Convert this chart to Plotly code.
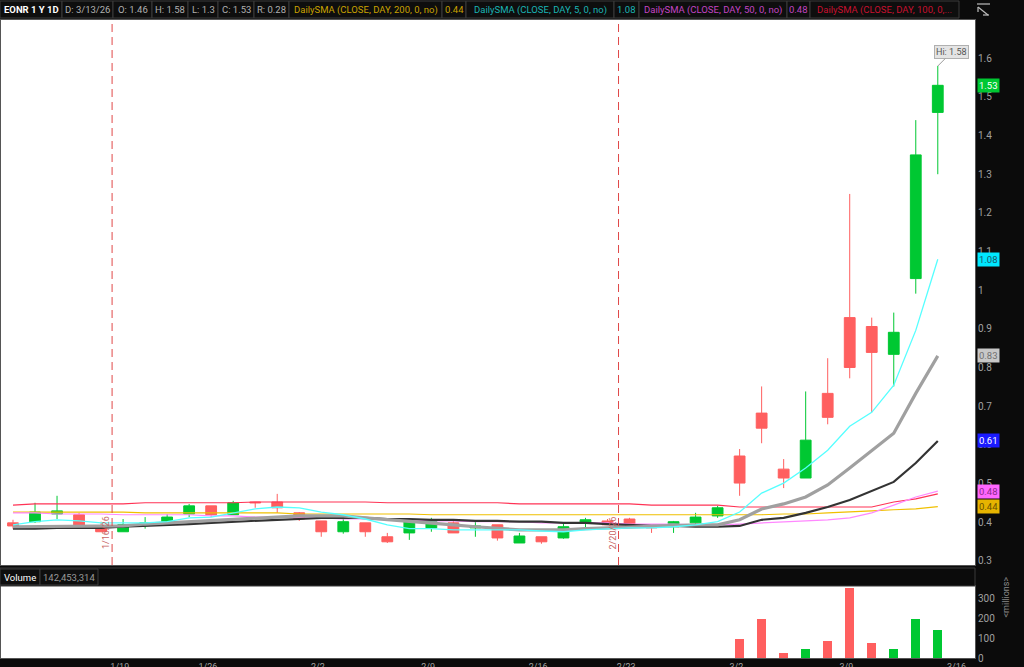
import plotly.graph_objects as go

# ---------------- data ----------------
dates = ["1/12", "1/13", "1/14", "1/15", "1/16", "1/20", "1/21", "1/22", "1/23",
         "1/26", "1/27", "1/28", "1/29", "1/30", "2/2", "2/3", "2/4", "2/5", "2/6",
         "2/9", "2/10", "2/11", "2/12", "2/13", "2/17", "2/18", "2/19", "2/20",
         "2/23", "2/24", "2/25", "2/26", "2/27", "3/2", "3/3", "3/4", "3/5", "3/6",
         "3/9", "3/10", "3/11", "3/12", "3/13"]

opens = [0.398, 0.401, 0.421, 0.419, 0.388, 0.375, 0.395, 0.401, 0.421, 0.442,
         0.419, 0.452, 0.452, 0.424, 0.403, 0.375, 0.398, 0.362, 0.372, 0.385,
         0.398, 0.385, 0.393, 0.346, 0.362, 0.359, 0.398, 0.403, 0.408, 0.390,
         0.388, 0.398, 0.416, 0.571, 0.682, 0.537, 0.514, 0.733, 0.929, 0.906,
         0.834, 1.030, 1.46]
highs = [0.406, 0.450, 0.468, 0.424, 0.401, 0.408, 0.413, 0.421, 0.447, 0.442,
         0.455, 0.452, 0.473, 0.426, 0.403, 0.411, 0.398, 0.372, 0.403, 0.411,
         0.406, 0.401, 0.393, 0.372, 0.362, 0.398, 0.411, 0.408, 0.411, 0.390,
         0.403, 0.424, 0.442, 0.589, 0.751, 0.563, 0.738, 0.824, 1.249, 0.929,
         0.942, 1.440, 1.58]
lows = [0.383, 0.398, 0.408, 0.383, 0.375, 0.375, 0.383, 0.401, 0.413, 0.413,
        0.419, 0.437, 0.424, 0.403, 0.362, 0.370, 0.362, 0.346, 0.354, 0.375,
        0.372, 0.362, 0.352, 0.346, 0.344, 0.357, 0.383, 0.393, 0.395, 0.372,
        0.372, 0.390, 0.411, 0.468, 0.604, 0.488, 0.514, 0.653, 0.772, 0.684,
        0.751, 0.991, 1.30]
closes = [0.390, 0.426, 0.429, 0.385, 0.375, 0.393, 0.398, 0.413, 0.442, 0.419,
          0.450, 0.450, 0.437, 0.408, 0.375, 0.401, 0.375, 0.349, 0.403, 0.403,
          0.372, 0.390, 0.359, 0.364, 0.349, 0.388, 0.406, 0.393, 0.395, 0.385,
          0.401, 0.413, 0.437, 0.501, 0.643, 0.514, 0.612, 0.671, 0.800, 0.839,
          0.891, 1.350, 1.53]

# volume in millions (earlier sessions are too small to be visible)
volume_m = [0, 0, 0, 0, 0, 0, 0, 0, 0, 0, 0, 0, 0, 0, 0, 0, 0, 0, 0, 0, 0, 0,
            0, 0, 0, 0, 0, 0, 0, 0, 0, 0, 0,
            95, 197, 27, 43, 85, 348, 73, 43, 197, 142.453314]

sma5 = [0.393, 0.401, 0.406, 0.403, 0.398, 0.398, 0.398, 0.401, 0.411, 0.413,
        0.424, 0.434, 0.439, 0.437, 0.426, 0.419, 0.408, 0.393, 0.383, 0.383,
        0.380, 0.380, 0.380, 0.380, 0.377, 0.375, 0.380, 0.383, 0.385, 0.385,
        0.388, 0.393, 0.401, 0.426, 0.475, 0.501, 0.540, 0.586, 0.648, 0.684,
        0.754, 0.896, 1.08]
ma_gray = [0.388, 0.388, 0.388, 0.388, 0.388, 0.390, 0.395, 0.398, 0.401, 0.403,
           0.408, 0.411, 0.413, 0.416, 0.416, 0.416, 0.411, 0.406, 0.401, 0.398,
           0.393, 0.388, 0.383, 0.380, 0.380, 0.380, 0.383, 0.385, 0.388, 0.390,
           0.390, 0.393, 0.393, 0.406, 0.434, 0.447, 0.465, 0.496, 0.540, 0.586,
           0.630, 0.733, 0.83]
ma_black = [0.383, 0.383, 0.385, 0.385, 0.385, 0.388, 0.390, 0.393, 0.395, 0.398,
            0.401, 0.403, 0.406, 0.408, 0.411, 0.411, 0.411, 0.408, 0.408, 0.406,
            0.406, 0.403, 0.403, 0.401, 0.401, 0.398, 0.398, 0.395, 0.393, 0.390,
            0.390, 0.388, 0.388, 0.390, 0.406, 0.411, 0.424, 0.439, 0.457, 0.481,
            0.504, 0.553, 0.61]
sma50 = [0.424, 0.424, 0.421, 0.421, 0.421, 0.419, 0.419, 0.419, 0.419, 0.416,
         0.416, 0.413, 0.413, 0.411, 0.411, 0.408, 0.408, 0.406, 0.406, 0.403,
         0.403, 0.401, 0.401, 0.401, 0.398, 0.398, 0.398, 0.398, 0.395, 0.395,
         0.395, 0.393, 0.393, 0.395, 0.398, 0.401, 0.403, 0.406, 0.411, 0.424,
         0.444, 0.465, 0.48]
sma100 = [0.444, 0.447, 0.447, 0.447, 0.447, 0.447, 0.450, 0.450, 0.450, 0.450,
          0.450, 0.452, 0.452, 0.452, 0.452, 0.452, 0.452, 0.450, 0.450, 0.450,
          0.450, 0.450, 0.450, 0.447, 0.447, 0.447, 0.447, 0.447, 0.447, 0.444,
          0.444, 0.444, 0.444, 0.439, 0.439, 0.439, 0.439, 0.439, 0.439, 0.439,
          0.452, 0.460, 0.473]
sma200 = [0.426, 0.426, 0.426, 0.426, 0.426, 0.426, 0.424, 0.424, 0.424, 0.424,
          0.424, 0.424, 0.424, 0.421, 0.421, 0.421, 0.421, 0.421, 0.421, 0.419,
          0.419, 0.419, 0.419, 0.419, 0.419, 0.419, 0.419, 0.419, 0.419, 0.419,
          0.419, 0.419, 0.419, 0.419, 0.419, 0.421, 0.421, 0.424, 0.426, 0.429,
          0.432, 0.434, 0.44]

week_labels = ["1/19", "1/26", "2/2", "2/9", "2/16", "2/23", "3/2", "3/9", "3/16"]
week_tick_idx = [5, 9, 14, 19, 24, 28, 33, 38, 43]
price_ticks = [0.3, 0.4, 0.5, 0.6, 0.7, 0.8, 0.9, 1.0, 1.1, 1.2, 1.3, 1.4, 1.5, 1.6]
volume_ticks = [0, 100, 200, 300]
expiry_dates = ["1/16", "2/20"]
expiry_labels = ["1/16/26", "2/20/26"]
symbol_label = "EONR 1 Y 1D"
date_label = "3/13/26"

# ---------------- styling helpers ----------------
W, H = 1024, 667
ML, MR, MT, MB = 1, 49, 20, 9
PW = W - ML - MR
PH = H - MT - MB


def fx(px):
    return (px - ML) / PW


def fy(py):
    return (H - MB - py) / PH


GREEN = "#00c832"
RED = "#ff5f5f"
BG = "#0b0b0b"
GRID_TXT = "#a0a0a0"
FONT = "Roboto"

idx = list(range(len(dates)))

fig = go.Figure()

fig.add_trace(go.Candlestick(
    x=idx, open=opens, high=highs, low=lows, close=closes,
    increasing=dict(line=dict(color=GREEN, width=1), fillcolor=GREEN),
    decreasing=dict(line=dict(color=RED, width=1), fillcolor=RED),
    xaxis="x", yaxis="y", showlegend=False, hoverinfo="skip"))

ma_specs = [
    (sma200, "#f0c000", 1.2),
    (sma100, "#ff3355", 1.2),
    (sma50, "#ff88ff", 1.2),
    (ma_black, "#333333", 2.2),
    (ma_gray, "#a0a0a0", 3.2),
    (sma5, "#55ffff", 1.3),
]
for series, col, w in ma_specs:
    fig.add_trace(go.Scatter(x=idx, y=series, mode="lines",
                             line=dict(color=col, width=w),
                             xaxis="x", yaxis="y", showlegend=False,
                             hoverinfo="skip"))

vol_colors = [GREEN if c >= o else RED for o, c in zip(opens, closes)]
fig.add_trace(go.Bar(x=idx, y=volume_m, marker=dict(color=vol_colors, line=dict(width=0)),
                     width=0.42, xaxis="x2", yaxis="y2", showlegend=False,
                     hoverinfo="skip"))

x_range = [-0.545, 43.69]
shapes = []
annotations = []

# expiration separators
for d, lab in zip(expiry_dates, expiry_labels):
    pos = dates.index(d) + 0.5
    shapes.append(dict(type="line", xref="x", yref="y domain", x0=pos, x1=pos,
                       y0=0, y1=1, line=dict(color="#e04848", width=1, dash="8px,5px")))
    annotations.append(dict(x=pos, y=0.372, xref="x", yref="y", text=lab,
                            textangle=-90, showarrow=False, xshift=-6,
                            font=dict(family=FONT, size=9, color="#c86464")))

# Hi callout
hi_val = max(highs)
annotations.append(dict(x=highs.index(hi_val), y=hi_val, xref="x", yref="y",
                        text=f"Hi: {hi_val:g}", showarrow=True, arrowhead=0,
                        arrowwidth=1, arrowcolor="#9a9a9a", ax=14, ay=-14,
                        bgcolor="#e4e4e4", bordercolor="#b0b0b0", borderwidth=1,
                        borderpad=1, font=dict(family=FONT, size=9, color="#555555")))

# right-axis value bubbles
bubbles = [
    (closes[-1], GREEN, "#ffffff"),
    (sma5[-1], "#00e8ff", "#1d5566"),
    (ma_gray[-1], "#c8c8c8", "#707070"),
    (ma_black[-1], "#1a1aff", "#ffffff"),
    (sma50[-1], "#ff66ff", "#8a2a8a"),
    (sma200[-1], "#e6b400", "#6b5200"),
]
for val, bg, fg in bubbles:
    annotations.append(dict(x=fx(977), y=val, xref="paper", yref="y",
                            xanchor="left", yanchor="middle", text=f"{val:.2f}",
                            showarrow=False, bgcolor=bg, borderpad=1,
                            font=dict(family=FONT, size=9.5, color=fg)))

# ---------------- header bar ----------------
header_items = [
    (symbol_label, "#ffffff", 0, 62, True),
    (f"D: {date_label}", "#b0b0b0", 62, 113, False),
    (f"O: {opens[-1]:g}", "#b0b0b0", 113, 152, False),
    (f"H: {highs[-1]:g}", "#b0b0b0", 152, 188, False),
    (f"L: {lows[-1]:g}", "#b0b0b0", 188, 218, False),
    (f"C: {closes[-1]:g}", "#b0b0b0", 218, 254, False),
    (f"R: {highs[-1] - lows[-1]:.2f}", "#b0b0b0", 254, 289, False),
    ("DailySMA (CLOSE, DAY, 200, 0, no)", "#c9a200", 289, 442, False),
    (f"{sma200[-1]:.2f}", "#c9a200", 442, 466, False),
    ("DailySMA (CLOSE, DAY, 5, 0, no)", "#1ab4b4", 466, 614, False),
    (f"{sma5[-1]:.2f}", "#1ab4b4", 614, 639, False),
    ("DailySMA (CLOSE, DAY, 50, 0, no)", "#c344c3", 639, 787, False),
    (f"{sma50[-1]:.2f}", "#c344c3", 787, 810, False),
    ("DailySMA (CLOSE, DAY, 100, 0,...", "#c8102e", 810, 959, False),
]
for text, col, x0, x1, bold in header_items:
    shapes.append(dict(type="rect", xref="paper", yref="paper",
                       x0=fx(x0), x1=fx(x1), y0=fy(18), y1=fy(1),
                       line=dict(color="#3a3a3a", width=1), fillcolor="#0e0e0e",
                       layer="above"))
    annotations.append(dict(x=fx((x0 + x1) / 2), y=fy(9.5), xref="paper", yref="paper",
                            text=f"<b>{text}</b>" if bold else text, showarrow=False,
                            xanchor="center", yanchor="middle",
                            font=dict(family=FONT, size=9.5, color=col)))

# top-right icon
for (a, b, c, d) in [(977, 4, 990, 4), (978, 7, 978, 12), (978, 7, 988, 15), (983, 15, 989, 15)]:
    shapes.append(dict(type="line", xref="paper", yref="paper",
                       x0=fx(a), y0=fy(b), x1=fx(c), y1=fy(d),
                       line=dict(color="#bdbdbd", width=1.2)))

# ---------------- volume header ----------------
shapes.append(dict(type="rect", xref="paper", yref="paper", x0=fx(0), x1=fx(975),
                   y0=fy(586), y1=fy(568), line=dict(color="#3a3a3a", width=1),
                   fillcolor="#0b0b0b", layer="above"))
vol_text = f"{round(volume_m[-1] * 1e6):,}"
for text, col, x0, x1 in [("Volume", "#ffffff", 0, 40), (vol_text, "#9a9a9a", 40, 98)]:
    shapes.append(dict(type="rect", xref="paper", yref="paper", x0=fx(x0), x1=fx(x1),
                       y0=fy(585), y1=fy(569), line=dict(color="#3a3a3a", width=1),
                       fillcolor="#0e0e0e", layer="above"))
    annotations.append(dict(x=fx((x0 + x1) / 2), y=fy(577), xref="paper", yref="paper",
                            text=text, showarrow=False, xanchor="center", yanchor="middle",
                            font=dict(family=FONT, size=9.5, color=col)))

annotations.append(dict(x=fx(1012), y=fy(620), xref="paper", yref="paper",
                        text="<millions>", textangle=-90, showarrow=False,
                        font=dict(family=FONT, size=9, color="#8a8a8a")))

fig.update_layout(
    width=W, height=H,
    margin=dict(l=ML, r=MR, t=MT, b=MB, autoexpand=False),
    paper_bgcolor=BG, plot_bgcolor="#ffffff",
    showlegend=False, hovermode=False, bargap=0,
    font=dict(family=FONT, color=GRID_TXT),
    xaxis=dict(domain=[0, 1], range=x_range, anchor="y", showticklabels=False,
               showgrid=False, zeroline=False, showline=True, mirror=True,
               linecolor="#555555", linewidth=1, rangeslider=dict(visible=False),
               ticks=""),
    yaxis=dict(domain=[fy(565), 1], range=[0.289, 1.699], side="right",
               tickvals=price_ticks, ticktext=[f"{v:g}" for v in price_ticks],
               tickfont=dict(family=FONT, size=10, color=GRID_TXT),
               showgrid=False, zeroline=False, showline=True, mirror=True,
               linecolor="#555555", linewidth=1, ticks=""),
    xaxis2=dict(domain=[0, 1], range=x_range, anchor="y2", matches="x",
                tickvals=[t - 0.15 for t in week_tick_idx], ticktext=week_labels,
                tickfont=dict(family=FONT, size=9, color=GRID_TXT),
                showgrid=False, zeroline=False, showline=True, mirror=True,
                linecolor="#555555", linewidth=1, ticks=""),
    yaxis2=dict(domain=[0, fy(586)], range=[0, 360], side="right",
                tickvals=volume_ticks, ticktext=[str(v) for v in volume_ticks],
                tickfont=dict(family=FONT, size=10, color=GRID_TXT),
                showgrid=False, zeroline=False, showline=True, mirror=True,
                linecolor="#555555", linewidth=1, ticks=""),
    shapes=shapes, annotations=annotations,
)

fig.write_html(
    "out.html",
    config={"displayModeBar": False},
    post_script="document.body.style.margin='0px';"
                "document.body.style.overflow='hidden';"
                "document.body.style.background='#0b0b0b';",
)
